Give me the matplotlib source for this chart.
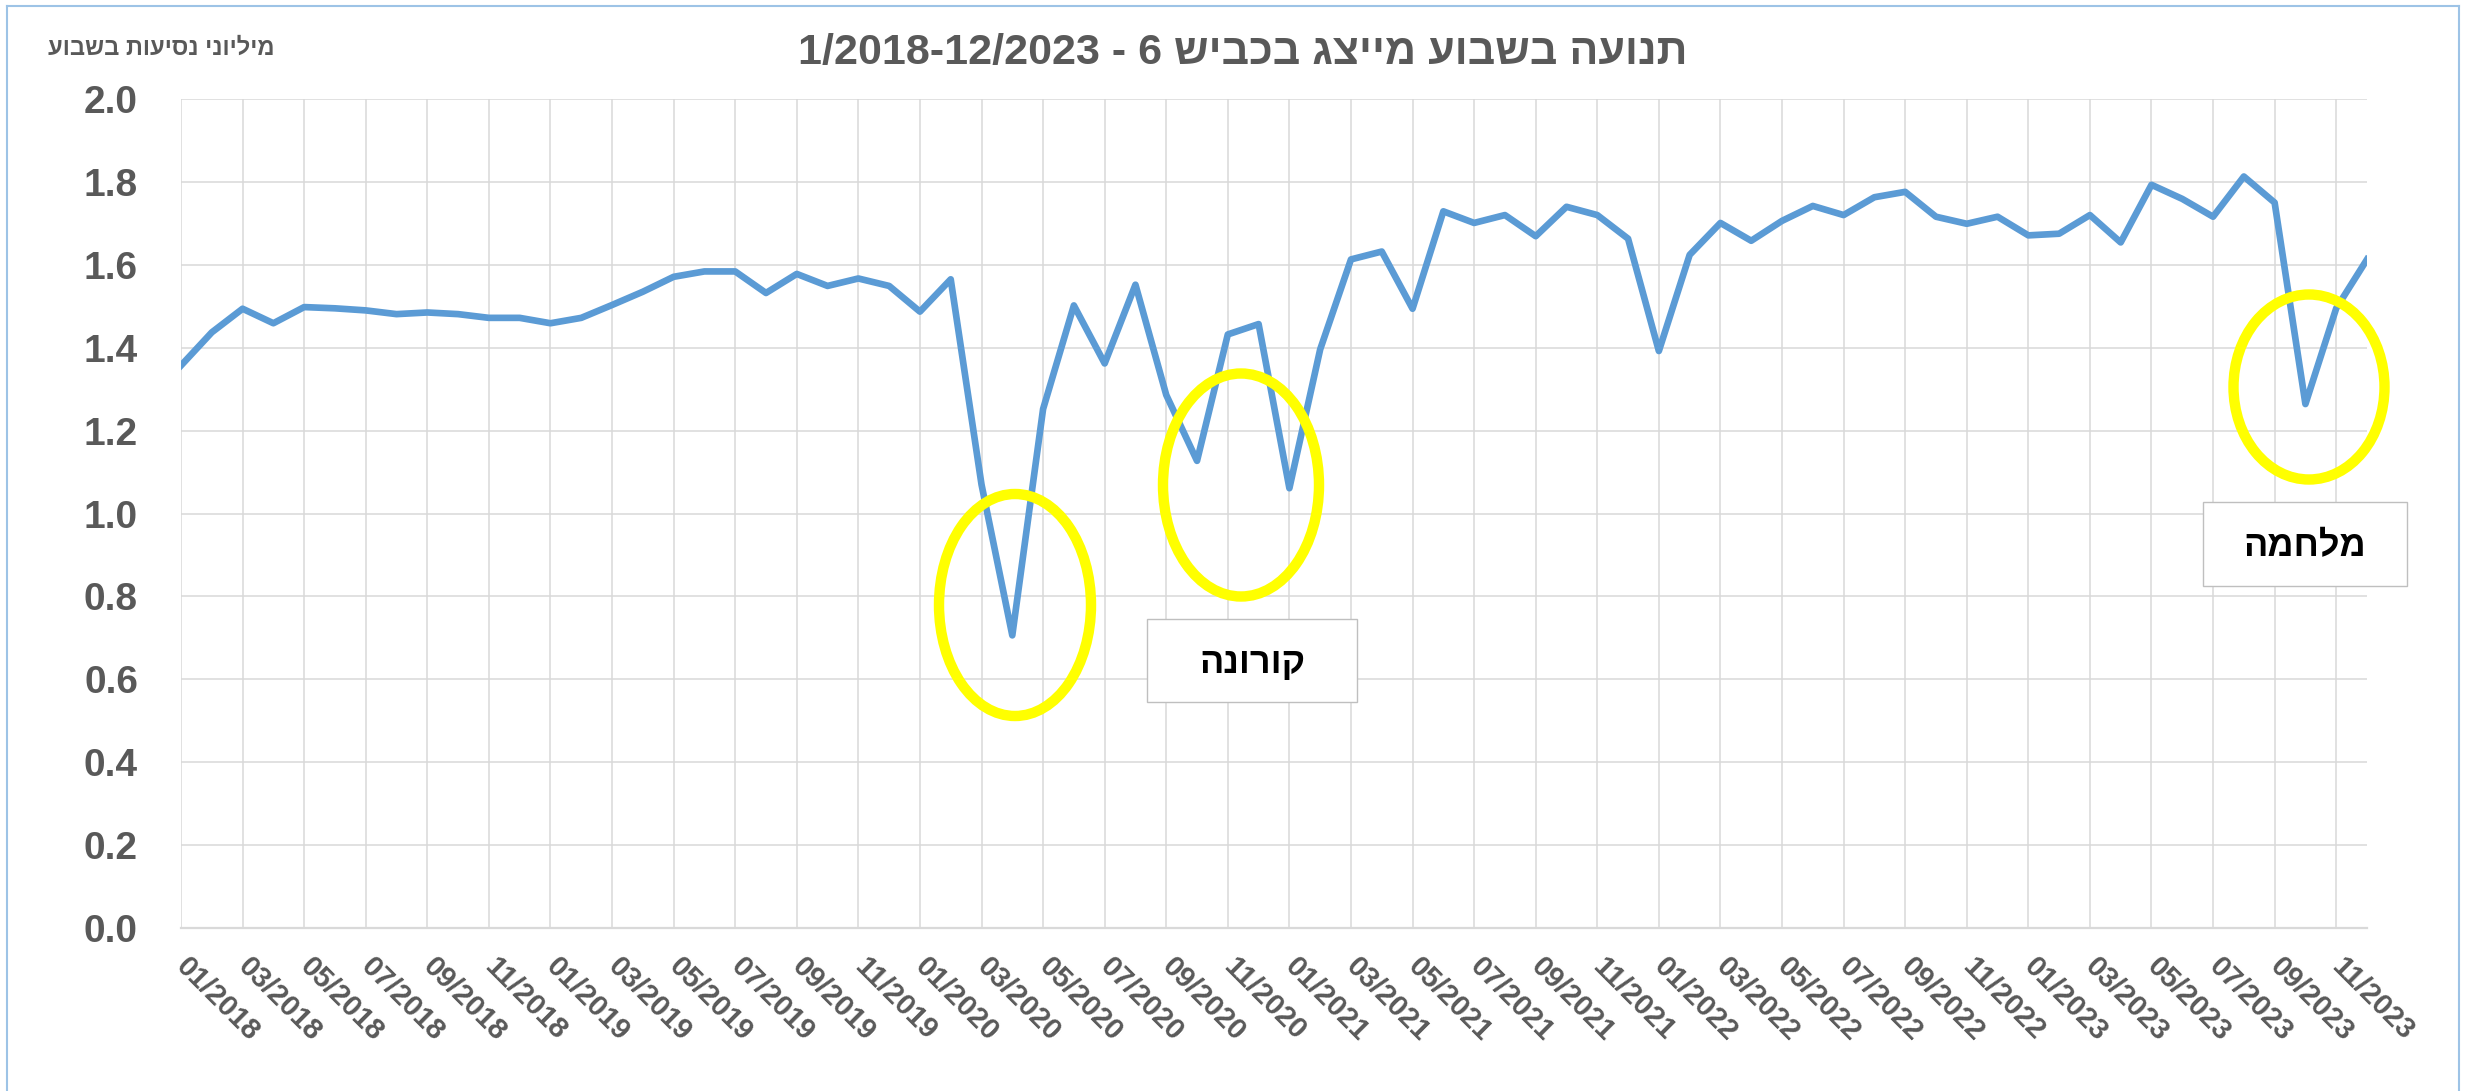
import matplotlib
matplotlib.use("Agg")
import matplotlib.pyplot as plt
import numpy as np
from matplotlib.patches import Ellipse, Rectangle
from matplotlib.lines import Line2D
from matplotlib.ticker import FormatStrFormatter

W, H, DPI = 2467, 1091, 100

# ---------------- data ----------------
months = [f"{m:02d}/{y}" for y in range(2018, 2024) for m in range(1, 13)]

tick_labels = ["01/2018", "03/2018", "05/2018", "07/2018", "09/2018", "11/2018",
               "01/2019", "03/2019", "05/2019", "07/2019", "09/2019", "11/2019",
               "01/2020", "03/2020", "05/2020", "07/2020", "09/2020", "11/2020",
               "01/2021", "03/2021", "05/2021", "07/2021", "09/2021", "11/2021",
               "01/2022", "03/2022", "05/2022", "07/2022", "09/2022", "11/2022",
               "01/2023", "03/2023", "05/2023", "07/2023", "09/2023", "11/2023"]

weekly_trips_2018 = [1.357, 1.437, 1.494, 1.459, 1.498, 1.495, 1.490, 1.481, 1.485, 1.481, 1.472, 1.472]
weekly_trips_2019 = [1.459, 1.472, 1.503, 1.535, 1.571, 1.584, 1.584, 1.532, 1.578, 1.549, 1.567, 1.549]
weekly_trips_2020 = [1.487, 1.565, 1.070, 0.706, 1.252, 1.502, 1.362, 1.552, 1.286, 1.127, 1.432, 1.457]
weekly_trips_2021 = [1.061, 1.396, 1.613, 1.632, 1.494, 1.729, 1.701, 1.720, 1.669, 1.740, 1.720, 1.663]
weekly_trips_2022 = [1.392, 1.624, 1.701, 1.658, 1.706, 1.742, 1.720, 1.763, 1.776, 1.716, 1.699, 1.716]
weekly_trips_2023 = [1.671, 1.675, 1.720, 1.654, 1.793, 1.759, 1.716, 1.813, 1.750, 1.264, 1.495, 1.613]
weekly_trips = (weekly_trips_2018 + weekly_trips_2019 + weekly_trips_2020 +
                weekly_trips_2021 + weekly_trips_2022 + weekly_trips_2023)

y_ticks = [0.0, 0.2, 0.4, 0.6, 0.8, 1.0, 1.2, 1.4, 1.6, 1.8, 2.0]

TITLE_HE = "תנועה בשבוע מייצג בכביש 6 -"
TITLE_RANGE = "1/2018-12/2023"
YLABEL_HE = "מיליוני נסיעות בשבוע"
CORONA = "קורונה"
WAR = "מלחמה"


def visual(s):
    """Hebrew (RTL) text in visual left-to-right order for matplotlib."""
    return s[::-1]


# ---------------- style ----------------
plt.rcParams['font.family'] = ['Liberation Sans', 'DejaVu Sans']
plt.rcParams['font.weight'] = 'bold'
GRAY_TXT = "#595959"
GRID = "#D9D9D9"
LINE = "#5B9BD5"
YELLOW = "#FFFF00"

fig = plt.figure(figsize=(W / DPI, H / DPI), dpi=DPI)
fig.patch.set_facecolor("white")


def fx(px):
    return px / W


def fy(py):
    return 1 - py / H


ax_l, ax_r, ax_t, ax_b = 181, 2367, 99, 928
ax = fig.add_axes([fx(ax_l), fy(ax_b), fx(ax_r - ax_l), (ax_b - ax_t) / H])

x = np.arange(len(months))
ax.plot(x, weekly_trips, color=LINE, lw=4.8, solid_joinstyle='round', zorder=3)

ax.set_xlim(0, len(months) - 1)
ax.set_ylim(0, 2.0)
ax.set_yticks(y_ticks)
ax.yaxis.set_major_formatter(FormatStrFormatter('%.1f'))
ax.set_xticks([months.index(t) for t in tick_labels])
ax.set_xticklabels(tick_labels)

ax.grid(True, color=GRID, lw=1.1, zorder=0)
ax.set_axisbelow(True)
for s in ['top', 'right', 'left']:
    ax.spines[s].set_visible(False)
ax.spines['bottom'].set_color(GRID)
ax.spines['bottom'].set_linewidth(1.6)

ax.tick_params(axis='y', length=0, pad=31, labelsize=28, labelcolor=GRAY_TXT)
ax.tick_params(axis='x', length=0, pad=25, labelsize=21, labelcolor=GRAY_TXT)
for lab in ax.get_xticklabels():
    lab.set_rotation(-45)
    lab.set_ha('left')
    lab.set_va('center')
    lab.set_rotation_mode('anchor')
for lab in ax.get_yticklabels() + ax.get_xticklabels():
    lab.set_fontweight('bold')

# ---------------- texts ----------------
fig.text(fx(1243), fy(53), TITLE_RANGE + " " + visual(TITLE_HE), ha='center', va='center',
         fontsize=31, fontweight='bold', color=GRAY_TXT)
fig.text(fx(275), fy(48), visual(YLABEL_HE), ha='right', va='center',
         fontsize=17, fontweight='bold', color=GRAY_TXT)

# ---------------- highlight ellipses ----------------
for cx, cy, ew, eh in [(1015, 605, 152, 222), (1241, 485, 156, 223), (2309, 387, 151, 185)]:
    fig.patches.append(Ellipse((fx(cx), fy(cy)), fx(ew), eh / H, transform=fig.transFigure,
                               fill=False, edgecolor=YELLOW, lw=7.5, zorder=5))

# ---------------- labelled boxes ----------------
for (x0, y0, x1, y1), txt in [((1147, 619, 1357, 702), CORONA), ((2203, 502, 2407, 586), WAR)]:
    fig.patches.append(Rectangle((fx(x0), fy(y1)), fx(x1 - x0), (y1 - y0) / H,
                                 transform=fig.transFigure, facecolor='white',
                                 edgecolor='#BFBFBF', lw=1.0, zorder=6))
    fig.text(fx((x0 + x1) / 2), fy((y0 + y1) / 2 + 3), visual(txt), ha='center', va='center',
             fontsize=26, fontweight='bold', color='black', zorder=7)

# ---------------- chart border ----------------
bc = "#9DC3E6"
fig.lines.append(Line2D([fx(7), fx(7)], [0, fy(6)], transform=fig.transFigure, color=bc, lw=1.5))
fig.lines.append(Line2D([fx(7), fx(2459)], [fy(6), fy(6)], transform=fig.transFigure, color=bc, lw=1.5))
fig.lines.append(Line2D([fx(2459), fx(2459)], [0, fy(6)], transform=fig.transFigure, color=bc, lw=1.5))

fig.savefig("out.png", dpi=DPI, facecolor='white')
